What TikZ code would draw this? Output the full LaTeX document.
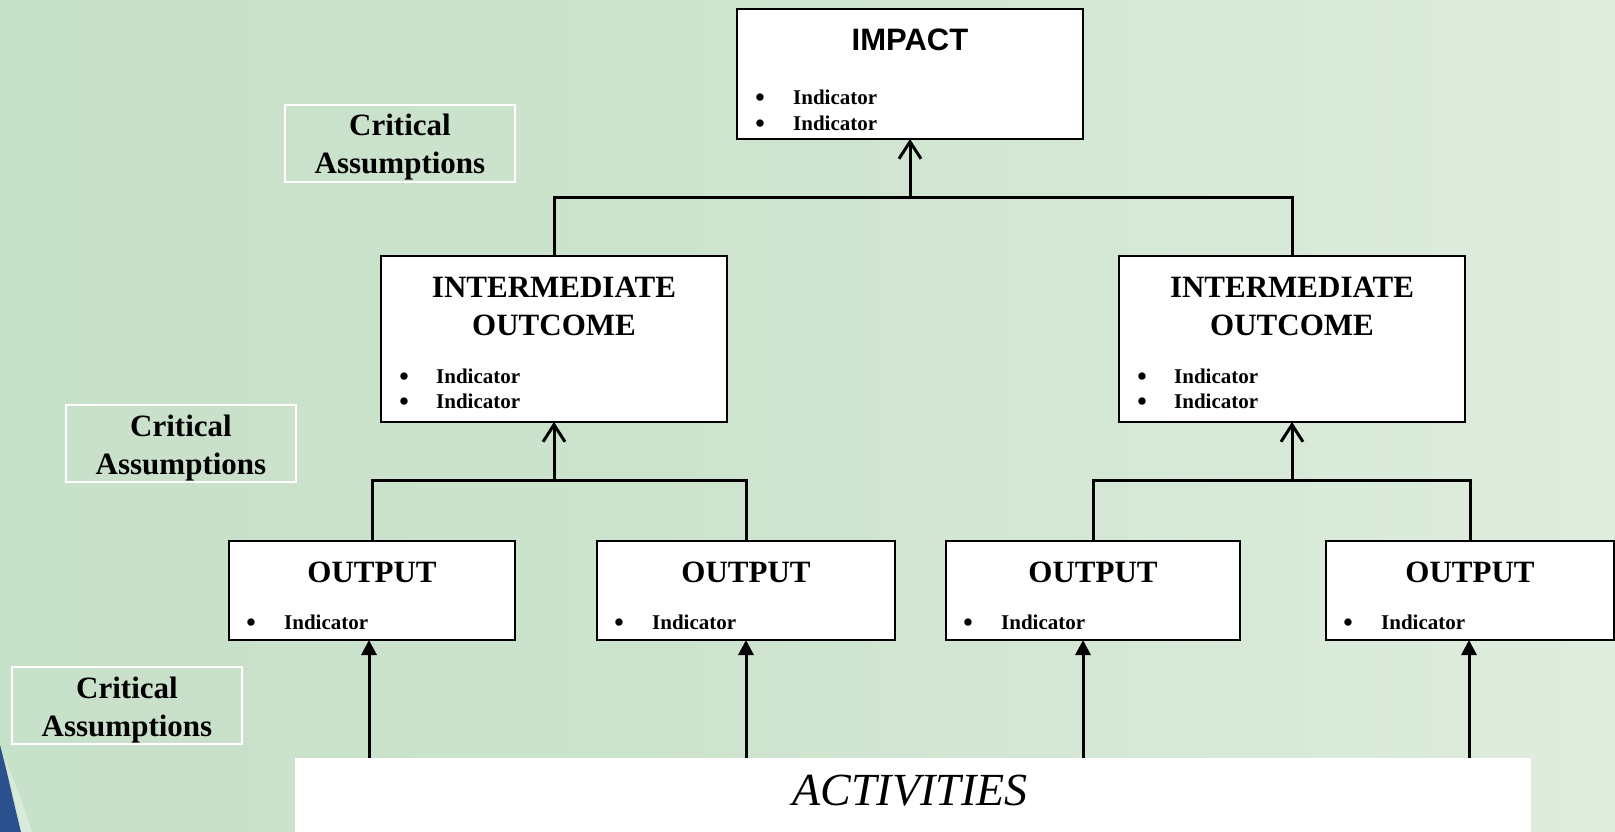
\documentclass[tikz,border=0pt]{standalone}
\usepackage{fontspec}
\setmainfont{Liberation Serif}
\newfontfamily\headsans{Liberation Sans}
\usetikzlibrary{arrows.meta,calc}

\definecolor{swoosh}{RGB}{42,80,142}

% soft green wash, darker on the left and fading to near white on the right
\pgfdeclarehorizontalshading{greenwash}{100bp}{
  rgb(0bp)=(0.765,0.867,0.773);
  rgb(20bp)=(0.780,0.878,0.788);
  rgb(45bp)=(0.800,0.890,0.805);
  rgb(65bp)=(0.850,0.915,0.850);
  rgb(85bp)=(0.900,0.945,0.900);
  rgb(100bp)=(0.930,0.960,0.930)}

\tikzset{
  levelbox/.style={draw=black, line width=2.2pt, fill=white, inner sep=0pt,
    outer sep=0pt, anchor=north west},
  assumbox/.style={draw=white, line width=1.8pt, inner sep=0pt, outer sep=0pt,
    anchor=north west},
  titletext/.style={font=\fontsize{31}{37}\selectfont\bfseries, anchor=base,
    inner sep=0pt},
  indtext/.style={font=\fontsize{21}{26}\selectfont\bfseries, anchor=base west,
    inner sep=0pt},
  bullettext/.style={font=\fontsize{27}{26}\selectfont\bfseries, anchor=base,
    inner sep=0pt, yshift=-2pt},
  link/.style={line width=3pt, draw=black},
  openarrow/.style={link, -{Straight Barb[length=17pt,width=22pt,line width=3pt]}},
  solidarrow/.style={link, -{Triangle[length=15pt,width=15pt]}},
}

\begin{document}
\begin{tikzpicture}[x=1pt,y=-1pt]
\useasboundingbox (0,0) rectangle (1615,832);

% backdrop
\shade[shading=greenwash] (0,0) rectangle (1615,832);
\fill[swoosh] (0,745) .. controls (8,775) and (14,805) .. (21,832) -- (0,832) -- cycle;
\fill[white, opacity=0.3] (5,760) .. controls (12,790) and (18,812) .. (21,832)
  -- (32,832) .. controls (24,805) and (14,780) .. (5,760) -- cycle;

% impact level
\node[levelbox, minimum width=346pt, minimum height=130pt] (impact) at (737,9) {};
\node[titletext, font=\fontsize{31}{37}\selectfont\bfseries\headsans] (impactT)
  at ($(impact.north)+(0,42)$) {IMPACT};
\node[bullettext] (impactB1) at ($(impact.north west)+(23,96)$) {•};
\node[indtext] (impactI1) at ($(impact.north west)+(56,96)$) {Indicator};
\node[bullettext] (impactB2) at ($(impact.north west)+(23,122)$) {•};
\node[indtext] (impactI2) at ($(impact.north west)+(56,122)$) {Indicator};

% intermediate outcomes
\foreach \n/\x in {io1/381, io2/1119} {
  \node[levelbox, minimum width=346pt, minimum height=166pt] (\n) at (\x,256) {};
  \node[titletext] (\n T1) at ($(\n.north)+(0,41)$) {INTERMEDIATE};
  \node[titletext] (\n T2) at ($(\n.north)+(0,79)$) {OUTCOME};
  \node[bullettext] (\n B1) at ($(\n.north west)+(23,127)$) {•};
  \node[indtext] (\n I1) at ($(\n.north west)+(55,127)$) {Indicator};
  \node[bullettext] (\n B2) at ($(\n.north west)+(23,152)$) {•};
  \node[indtext] (\n I2) at ($(\n.north west)+(55,152)$) {Indicator};
}

% outputs
\foreach \n/\x/\w in {out1/229/286, out2/597/298, out3/946/294, out4/1326/288} {
  \node[levelbox, minimum width=\w pt, minimum height=99pt] (\n) at (\x,541) {};
  \node[titletext] (\n T) at ($(\n.north)+(0,41)$) {OUTPUT};
  \node[bullettext] (\n B) at ($(\n.north west)+(22,88)$) {•};
  \node[indtext] (\n I) at ($(\n.north west)+(55,88)$) {Indicator};
}

% critical assumptions
\foreach \n/\x/\y in {ca1/285/105, ca2/66/405, ca3/12/667} {
  \node[assumbox, minimum width=230pt, minimum height=77pt] (\n) at (\x,\y) {};
  \node[titletext] (\n T1) at ($(\n.north)+(0,31)$) {Critical};
  \node[titletext] (\n T2) at ($(\n.north)+(0,69)$) {Assumptions};
}

% activities band
\node[fill=white, inner sep=0pt, outer sep=0pt, anchor=north west,
  minimum width=1236pt, minimum height=74pt] (act) at (295,758) {};
\node[font=\fontsize{46}{55}\selectfont\itshape, anchor=base, inner sep=0pt]
  (actT) at (910,805) {ACTIVITIES};

% junctions
\coordinate (j1) at (910,197);
\coordinate (j2) at (554,480);
\coordinate (j3) at (1292,480);

\draw[link] (io1.north) |- (j1) -| (io2.north);
\draw[openarrow] (j1) -- (impact.south);
\draw[link] (out1.north) |- (j2) -| (out2.north);
\draw[openarrow] (j2) -- (io1.south);
\draw[link] (out3.north) |- (j3) -| (out4.north);
\draw[openarrow] (j3) -- (io2.south);

% activities feed the outputs
\foreach \k/\x in {1/369, 2/746, 3/1083, 4/1469} {
  \coordinate (a\k) at (\x,758);
  \draw[solidarrow] (a\k) -- (a\k |- out\k.south);
}
\end{tikzpicture}
\end{document}
